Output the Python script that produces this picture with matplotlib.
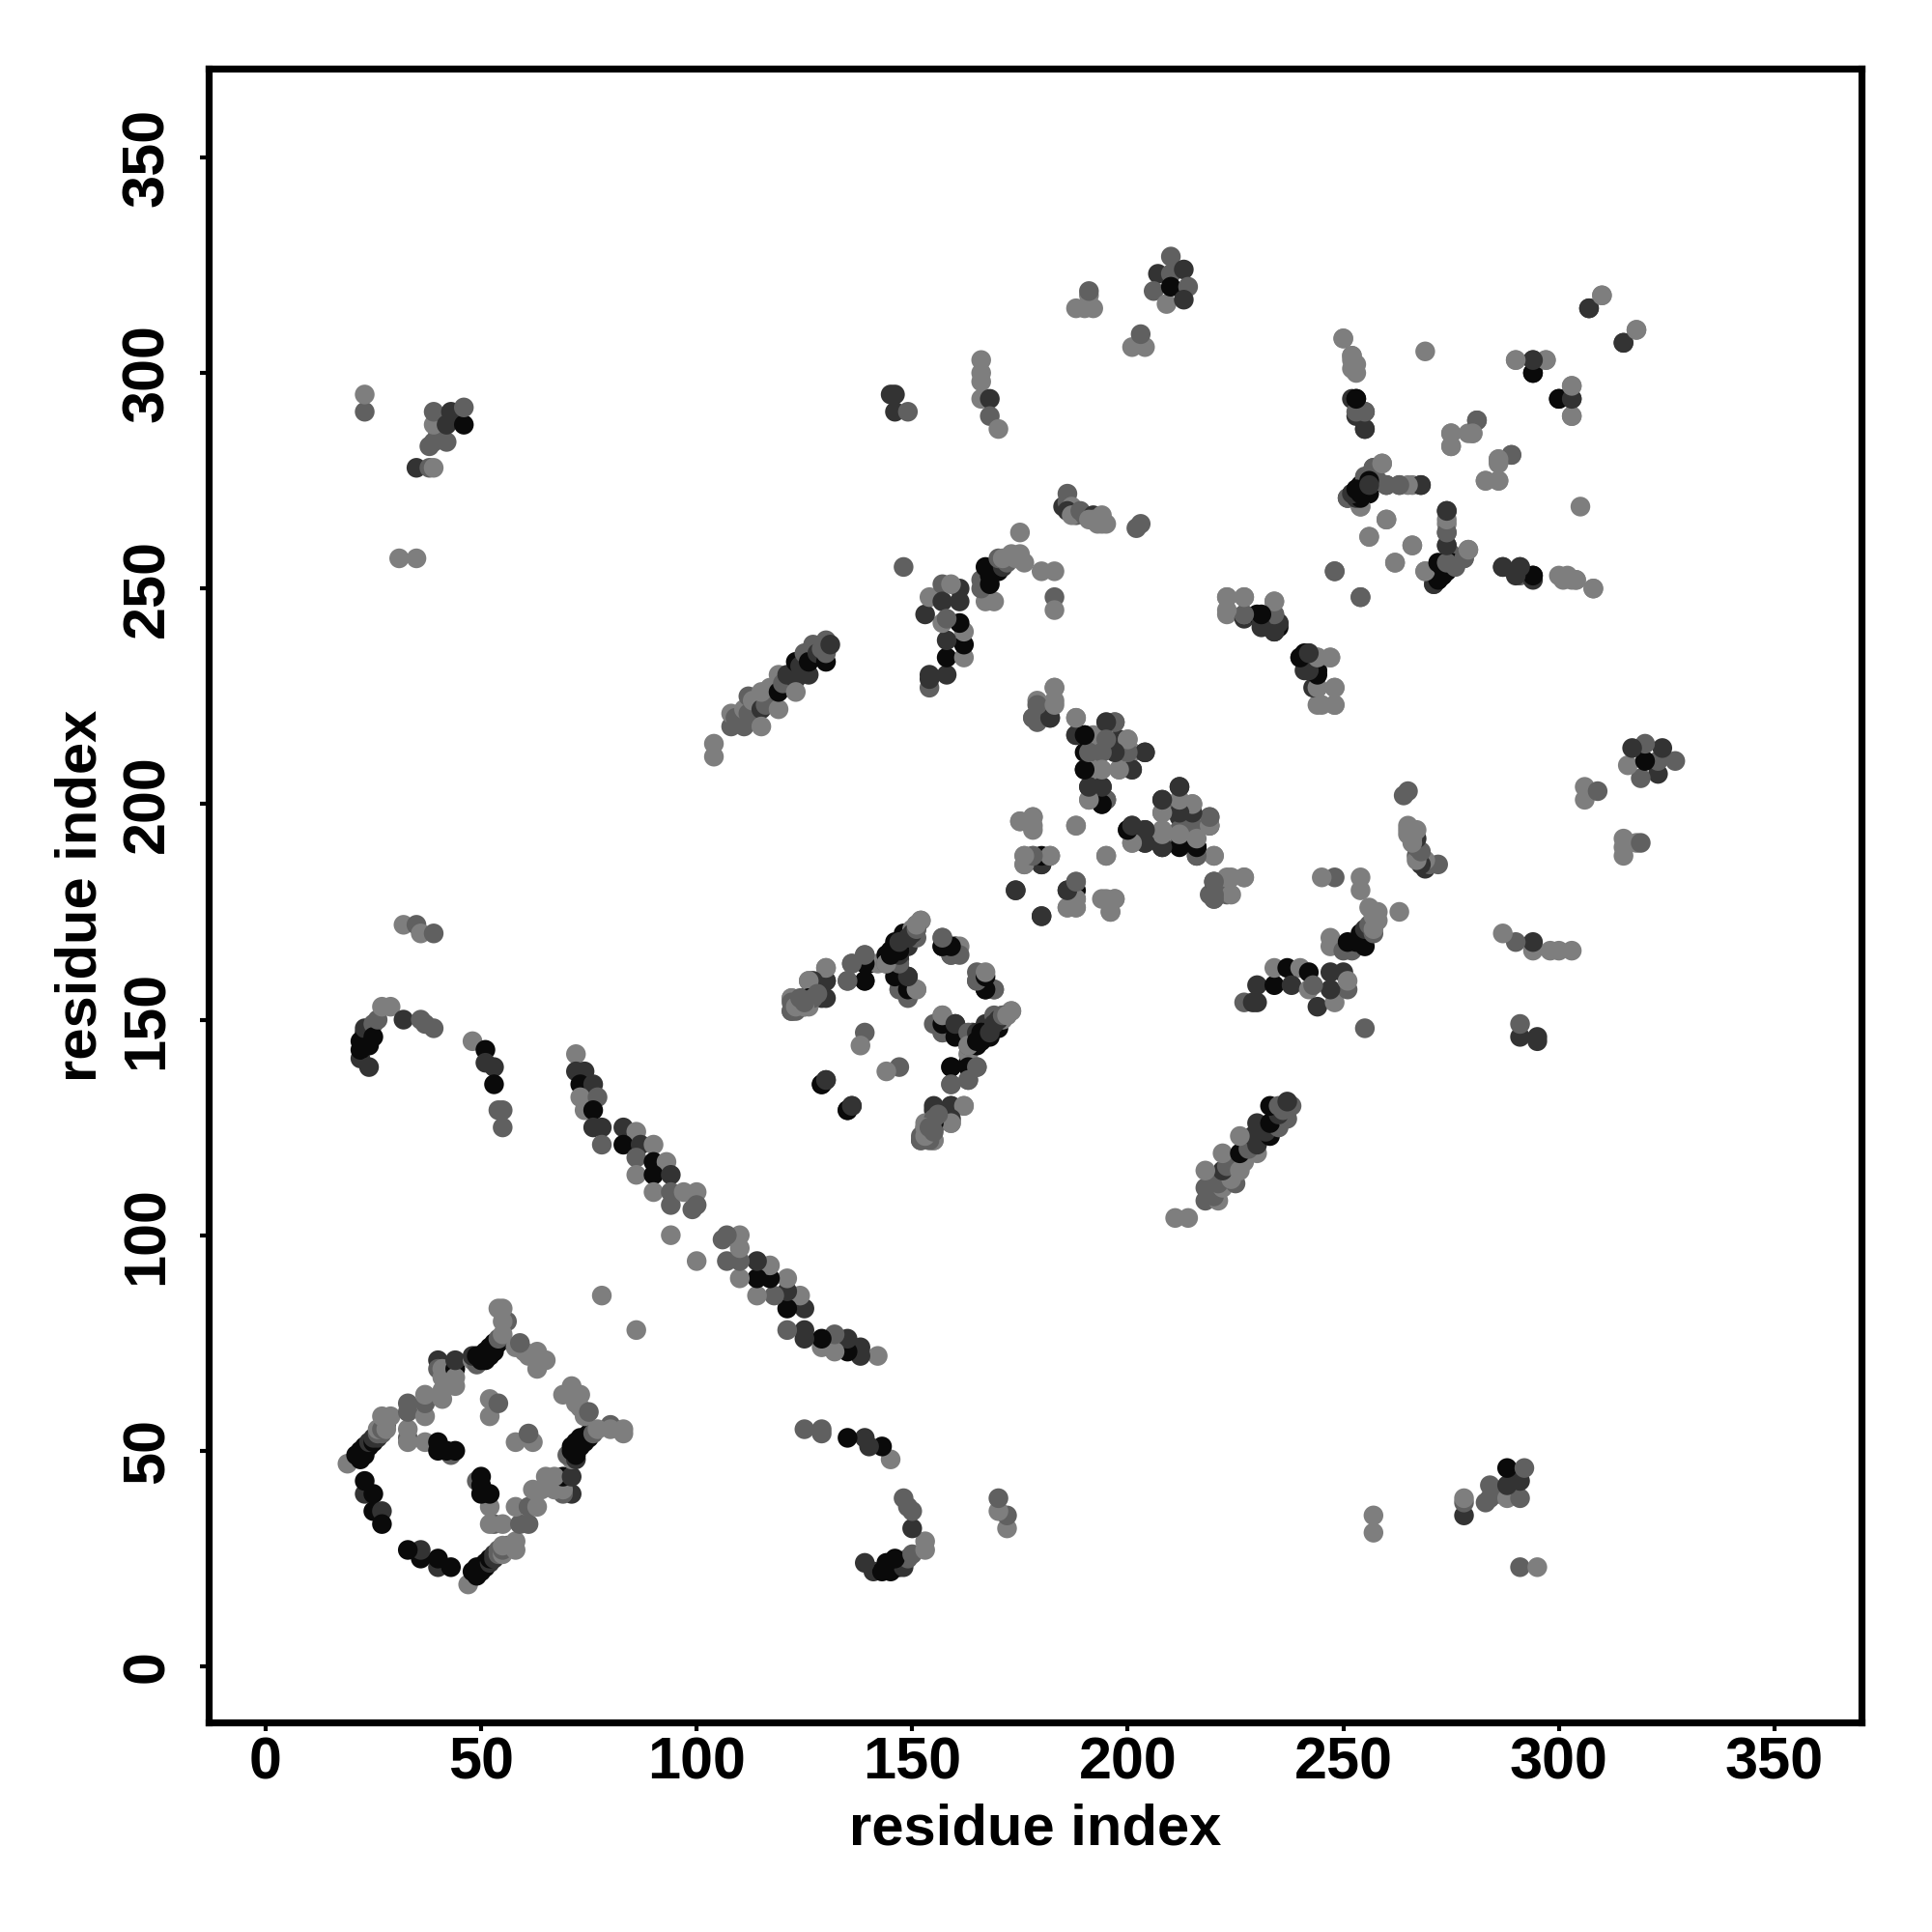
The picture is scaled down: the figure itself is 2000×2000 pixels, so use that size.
import numpy as np
import matplotlib
matplotlib.use("Agg")
import matplotlib.pyplot as plt

plt.rcParams['font.family'] = ['Liberation Sans', 'DejaVu Sans']

# contacts as (residue i, residue j, shade), i < j. the map is symmetric so only one half is listed
# shade: 0 black, 1 dark, 2 mid, 3 light
hairpin_a = [(19,47,3),(22,48,0),(21,49,0),(22,49,0),(22,50,0),(23,49,0),(23,50,0),(23,51,0),(24,51,0),
             (24,52,1),(25,52,0),(25,53,1),(26,53,1),(26,54,2),(27,54,2),(26,55,3),(27,55,2),(28,56,2),
             (28,55,3),(28,57,3),(27,58,3),(29,58,3)]
loop_a = [(23,40,1),(23,43,0),(25,40,0),(25,36,0),(27,36,1),(27,33,0),
          (33,53,2),(33,52,3),(37,52,3),(43,49,2),(40,52,0),(40,50,0),(42,50,0),(44,50,0),
          (33,55,3),(33,59,2),(33,61,2),(37,58,3),(37,61,2),(37,63,3),
          (40,71,1),(40,69,2),(41,62,3),(41,64,3),(41,67,3),(41,69,3),(44,69,0),(44,65,3),(44,67,3),(44,71,1)]
hairpin_b = [(48,71,3),(49,70,2),(48,72,1),(49,72,0),(50,71,0),(51,71,0),(51,73,0),(52,72,0),(52,74,0),
             (53,73,0),(53,75,0),(54,75,0),(54,76,2),(56,80,2),(55,77,3),(55,80,3),(54,83,3),(55,83,3),
             (58,74,3),(60,73,3),(61,72,3),(63,73,3),(63,69,3),(65,71,3),(59,75,2),
             (52,62,3),(52,58,3),(54,61,2),(78,86,3),(94,100,3)]
long_arm = [(23,291,2),(23,295,3),(31,257,3),(35,257,3),(32,172,3),(35,172,2),(36,170,3),(39,170,2),
            (35,278,1),(38,278,2),(39,278,3),(38,283,2),(39,284,2),(40,286,2),(39,288,3),(39,291,2),(42,284,2),
            (42,288,1),(43,291,1),(46,288,0),(46,292,2)]
strand_c = [(22,141,1),(22,143,0),(22,145,0),(23,147,0),(23,148,1),(24,139,1),(25,149,2),(25,146,0),
            (24,144,0),(26,150,2),(27,153,3),(29,153,3),(32,150,1),(36,150,2),(37,149,2),(39,148,2),
            (48,145,3),(51,143,0),(51,140,1),(53,139,1),(53,135,0),(54,129,2),(55,129,2),(55,125,2)]
main_band = [(72,142,3),(72,138,1),(74,138,1),(73,135,0),(76,135,1),(73,132,3),(77,132,2),(74,129,3),(76,129,0),
             (76,125,1),(78,125,1),(78,121,2),(83,125,1),(86,124,3),(83,121,0),(87,121,1),(90,121,3),
             (86,118,2),(90,117,0),(93,117,3),(86,114,3),(90,114,0),(94,114,1),(90,110,3),(94,110,2),(94,107,2),
             (97,110,3),(100,110,3),(99,106,2),(100,107,2)]
short_c = [(130,162,3),(126,159,3),(130,159,1),(122,155,3),(122,152,2),(123,152,2),(125,155,0),(125,153,2),
           (129,155,1),(136,163,2),(135,159,2),(139,165,2),(139,159,1),(140,163,0),(142,163,3),(144,165,0),
           (144,163,2),(145,166,0),(146,166,1),(146,168,0),(147,168,0),(148,168,1),(148,170,0),(149,169,0),
           (149,167,1),(147,164,1),(147,162,2),(150,170,1),(151,171,3),(151,172,2),(152,173,3),
           (147,160,0),(149,160,1),(147,157,3),(149,156,0),(151,157,3),(149,155,2),
           (157,169,2),(157,167,0),(159,165,2),(160,167,0),(161,167,3),(165,161,2),(165,159,2),(167,159,0),
           (167,157,0),(169,157,2)]
short_d = [(147,157,2),(149,157,0),(151,157,3),(146,160,0),(149,160,1),(147,163,2),(144,163,3),(147,165,1),
           (145,165,0),(146,167,0),(147,167,0),(148,169,0),(151,169,2),(150,171,3),(152,173,3),
           (139,159,0),(139,163,0),(139,165,2),(135,159,2),(136,163,2),
           (139,147,2),(138,144,3),(129,135,0),(130,136,1),(135,129,0),(136,130,1),
           (130,155,1),(130,159,1),(130,162,3),(127,159,1),(126,159,3),(126,155,0),(126,153,3),(127,155,2),
           (122,155,3),(122,152,2),(125,153,3),(122,154,2),(123,153,3),(125,154,2),(124,155,2),(128,156,2),
           (146,166,0),(147,166,0),(147,168,1),(149,169,1),(150,170,1),(151,171,2),(151,172,3)]
helix_e = [(104,211,3),(104,214,3),(108,218,2),(108,221,3),(109,220,2),(111,218,2),(111,222,3),(112,221,2),
           (112,225,2),(113,224,3),(115,222,1),(115,218,3),(116,223,2),(115,226,3),(117,227,3),(119,222,3),
           (119,226,0),(119,230,3),(120,228,2),(121,230,1),(123,229,1),(123,226,3),(123,233,0),
           (124,232,1),(125,235,2),(126,230,1),(126,233,0),(127,237,2),(128,235,1),(129,236,2),
           (130,233,0),(130,235,2),(130,238,2),(131,237,1)]
strand_f = [(148,255,2),(154,227,2),(154,229,1),(154,230,1),(158,230,1),(158,234,0),(162,234,3),(162,237,0),
            (162,240,3),(158,238,1),(161,242,0),(157,242,3),(153,244,1),(154,248,3),(157,251,2),(157,247,1),
            (161,250,1),(161,247,1),(159,251,3),(158,243,2),
            (167,247,3),(169,247,3),(166,250,2),(166,252,2),(168,251,0),(167,255,0),(168,253,0),(169,254,0),
            (170,254,0),(171,255,1),(170,257,2),(172,256,2),(171,257,3),(174,257,3),
            (173,258,3),(175,258,3),(176,256,3),(175,263,3),(180,254,3),(183,254,3),(183,248,2),(183,245,3)]
strand_g = [(186,272,2),(185,269,1),(186,270,2),(187,269,3),(186,268,1),(188,267,2),(187,267,3),(189,268,2),
            (190,267,2),(192,267,1),(191,266,3),(192,266,3),(193,265,3),(194,267,3),(194,265,3),(195,265,3),
            (202,264,2),(203,265,2),
            (188,315,3),(190,315,3),(192,315,3),(191,318,3),(191,319,2),
            (201,306,3),(204,306,3),(203,309,2),
            (207,323,1),(206,319,2),(209,316,3),(210,327,2),(210,323,2),(210,320,0),(213,324,1),(214,320,2),(213,317,1)]
stack_h = [(145,295,1),(146,295,1),(146,291,1),(149,291,2),(166,294,3),(166,298,3),(166,300,3),(166,303,3),
           (168,294,1),(168,290,2),(170,287,3)]
cluster_i = [(183,227,3),(179,224,3),(183,224,3),(178,220,2),(179,220,2),(182,220,2),(188,220,3),(188,216,2),
             (190,216,0),(190,212,0),(190,208,1),(192,216,3),(195,219,3),(197,219,2),(193,212,3),(193,208,3),
             (198,215,1),(200,215,3),(198,212,1),(201,212,3),(204,212,1),(198,208,3),(201,208,1),
             (191,204,1),(194,204,1),(191,201,3),(194,200,0),(195,201,1)]
cluster_j = [(212,204,1),(208,201,1),(208,198,3),(212,200,2),(215,200,3),(212,197,1),(219,197,2),(219,195,1),
             (215,195,2),(212,194,2),(201,195,2),(200,194,0),(204,194,1),(201,191,3),(204,191,1),(208,194,3),
             (208,190,0),(212,191,2),(216,188,1),(216,190,0),(220,188,3),
             (188,195,3),(195,188,3),(178,197,3),(175,196,3),(178,194,3),
             (176,186,3),(176,188,3),(178,188,3),(180,186,1),(182,188,2),
             (174,180,1),(180,174,1),(186,180,1),(188,180,0),(188,182,3),(186,176,3),(188,178,2),(188,176,3),
             (195,178,3),(196,175,3),(197,178,3),(219,179,2),(220,178,2),(220,182,1),(223,179,2),(223,183,3),(227,183,3)]
upper_k = [(250,308,3),(252,304,3),(252,301,3),(252,303,3),(252,294,1),(253,294,0),(253,290,1),(255,291,1),(255,287,1),
           (269,305,3),(290,303,3),(294,300,0),(294,303,1),(297,303,3),(300,294,0),(303,297,3),(303,294,1),(303,290,3),
           (307,315,1),(310,318,3),(315,307,1),(318,310,3),
           (281,289,2),(275,286,3),(279,286,3),(280,286,3),(275,283,3),(289,281,2),(286,280,3),(283,275,3),(286,275,3)]
upper_l = [(251,271,1),(252,272,0),(253,272,0),(253,273,0),(254,269,3),(255,273,0),(254,274,0),(255,275,0),(256,272,0),
           (256,274,2),(257,278,2),(259,279,3),(255,276,2),
           (260,274,1),(263,274,2),(266,274,3),(268,274,1),
           (260,266,3),(256,262,3),(266,260,3),(262,256,3),(248,254,2),(254,248,2),
           (274,268,1),(274,265,3),(274,263,2),(274,260,2),(269,254,3),(271,251,2),(271,253,1),(271,254,0),(272,252,1),
           (272,254,0),(272,255,0),(273,255,0),(273,253,0),(275,258,2),(278,257,2),(279,259,3),(275,256,0),(274,256,1),
           (287,255,1),(291,255,2),(291,253,2),(294,253,0),(300,253,3),(302,253,3),(304,252,3),(308,250,3)]
upper_m = [(223,248,3),(227,248,3),(234,247,3),(223,244,3),(227,243,1),(227,244,3),(230,244,0),(231,242,1),
           (234,244,3),(234,240,0),(235,241,0),(235,242,1),
           (240,234,1),(242,235,1),(244,234,2),(247,234,3),(241,231,1),(244,231,0),(244,227,2),(248,227,3),(245,223,3),(248,223,3)]

shade_grey = {0: '#0a0a0a', 1: '#333333', 2: '#606060', 3: '#7e7e7e'}
tick_vals = [0, 50, 100, 150, 200, 250, 300, 350]

contacts = np.array(hairpin_a + loop_a + hairpin_b + long_arm + strand_c + main_band + short_c + short_d + helix_e
                    + strand_f + strand_g + stack_h + cluster_i + cluster_j + upper_k + upper_l + upper_m)
i = contacts[:, 0]
j = contacts[:, 1]
cols = [shade_grey[s] for s in contacts[:, 2]]

fig = plt.figure(figsize=(10, 10), dpi=200)
ax = fig.add_axes([216/2000, 217/2000, (1927-216)/2000, (1783-71)/2000])

# both halves of the map
ax.scatter(i, j, s=54, c=cols, linewidths=0)
ax.scatter(j, i, s=54, c=cols, linewidths=0)

ax.set_xlim(-13.2, 370.2)
ax.set_ylim(-13.0, 370.6)
ax.set_xticks(tick_vals)
ax.set_yticks(tick_vals)
ax.tick_params(axis='x', length=3.2, width=1.5, labelsize=22, pad=2)
ax.tick_params(axis='y', length=3.2, width=1.5, labelsize=22, pad=9)
for lab in ax.get_xticklabels():
    lab.set_fontweight('bold')
for lab in ax.get_yticklabels():
    lab.set_fontweight('bold')
    lab.set_rotation(90)
    lab.set_va('center')
for sp in ax.spines.values():
    sp.set_linewidth(2.6)

ax.set_xlabel('residue index', fontsize=21.5, fontweight='bold', labelpad=4.5)
ax.set_ylabel('residue index', fontsize=21.5, fontweight='bold', labelpad=5)

fig.savefig('out.png', dpi=200)
